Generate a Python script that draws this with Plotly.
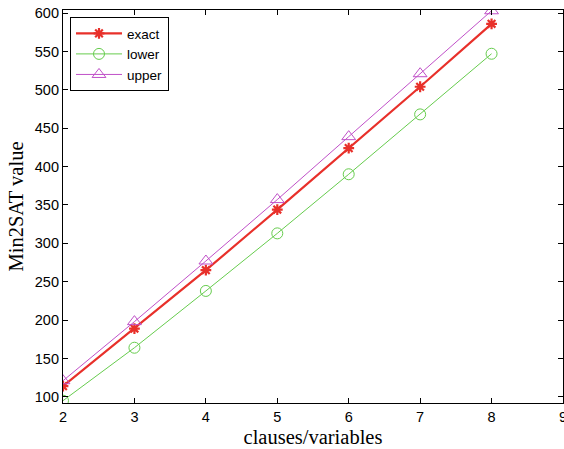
import plotly.graph_objects as go

ratio = [2, 3, 4, 5, 6, 7, 8]
exact = [114, 189, 265, 344, 424, 504, 586]
lower = [95, 164, 238, 313, 390, 468, 547]
upper = [121, 198, 277, 357, 439, 521, 603]

fig = go.Figure()
fig.add_trace(go.Scatter(x=ratio, y=exact, name="exact", mode="lines+markers",
                         line=dict(color="#e8302a", width=2.2),
                         marker=dict(symbol="asterisk", size=9, color="#e8302a",
                                     line=dict(color="#e8302a", width=2.2))))
fig.add_trace(go.Scatter(x=ratio, y=lower, name="lower", mode="lines+markers",
                         line=dict(color="#66cc4d", width=1),
                         marker=dict(symbol="circle-open", size=11, color="#66cc4d",
                                     line=dict(color="#66cc4d", width=1))))
fig.add_trace(go.Scatter(x=ratio, y=upper, name="upper", mode="lines+markers",
                         line=dict(color="#c050c8", width=1),
                         marker=dict(symbol="triangle-up-open", size=12, color="#c050c8",
                                     line=dict(color="#c050c8", width=1))))

tickfont = dict(family="Liberation Sans, Arial, sans-serif", size=14.5, color="black")
axis_common = dict(showline=True, linecolor="black", linewidth=1.2, mirror="ticks",
                   ticks="inside", ticklen=5, tickcolor="black", showgrid=False,
                   zeroline=False, automargin=False, tickfont=tickfont,
                   ticklabeloverflow="allow")

fig.update_layout(
    width=564, height=449,
    margin=dict(l=63, r=1, t=10, b=46),
    paper_bgcolor="white", plot_bgcolor="white",
    xaxis=dict(range=[2, 9], tickvals=[2, 3, 4, 5, 6, 7, 8, 9],
               title=dict(text="clauses/variables", standoff=6,
                          font=dict(family="Liberation Serif, Times New Roman, serif", size=20.5, color="black")),
               **axis_common),
    yaxis=dict(range=[92, 604], tickvals=[100, 150, 200, 250, 300, 350, 400, 450, 500, 550, 600],
               title=dict(text="Min2SAT value", standoff=5,
                          font=dict(family="Liberation Serif, Times New Roman, serif", size=20.5, color="black")),
               **axis_common),
    legend=dict(x=0.014, y=0.982, xanchor="left", yanchor="top",
                bgcolor="white", bordercolor="black", borderwidth=1,
                font=dict(family="Liberation Sans, Arial, sans-serif", size=13.5, color="black"),
                tracegroupgap=0, itemwidth=46),
    showlegend=True,
)

fig.write_html("out.html",
               config={"displayModeBar": False, "responsive": False},
               post_script=("document.body.style.margin='0';"
                            "document.body.style.overflow='hidden';"
                            "Plotly.relayout('{plot_id}', {width:564, height:449});"))
